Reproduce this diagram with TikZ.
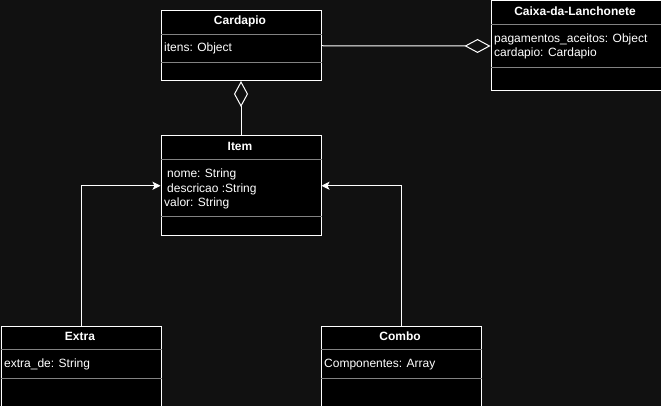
\documentclass[tikz,border=0pt]{standalone}
\usepackage{fontspec}
\setmainfont{Liberation Sans}
\usetikzlibrary{arrows.meta,positioning}
\definecolor{bgcol}{RGB}{17,17,17}
\definecolor{sepcol}{RGB}{130,130,130}

\begin{document}
\begin{tikzpicture}[
    x=1pt, y=-1pt,
    every node/.style={text=white, font=\fontsize{12}{14.7}\selectfont},
    classbox/.style={draw=white, fill=black, line width=1pt, anchor=north west, inner sep=0pt},
    title/.style={font=\fontsize{12}{14.7}\selectfont\bfseries, inner sep=0pt},
    attr/.style={anchor=west, align=left, inner sep=0pt},
    divider/.style={draw=sepcol, line width=1pt},
    link/.style={draw=white, line width=1pt},
    inherit/.style={link, -{Stealth[length=8pt, width=8pt, inset=2pt]}},
    aggregate/.style={link, -{Diamond[open, length=26pt, width=14pt]}}
]
\fill[bgcol] (0,0) rectangle (661,406);
\useasboundingbox (0,0) rectangle (661,406);

% Classes
\node[classbox, minimum width=160pt, minimum height=69.5pt] (cardapio) at (160.5,10.5) {};
\node[classbox, minimum width=170pt, minimum height=90pt] (caixa) at (490.5,0.5) {};
\node[classbox, minimum width=160pt, minimum height=99.5pt] (item) at (160.5,135.5) {};
\node[classbox, minimum width=160pt, minimum height=80pt] (extra) at (0.5,325.5) {};
\node[classbox, minimum width=160pt, minimum height=80pt] (combo) at (320.5,325.5) {};

% Compartments
\draw[divider] ([yshift=-24pt]cardapio.north west) -- ([yshift=-24pt]cardapio.north east);
\draw[divider] ([yshift=18pt]cardapio.south west) -- ([yshift=18pt]cardapio.south east);
\draw[divider] ([yshift=-24pt]caixa.north west) -- ([yshift=-24pt]caixa.north east);
\draw[divider] ([yshift=24pt]caixa.south west) -- ([yshift=24pt]caixa.south east);
\draw[divider] ([yshift=-24pt]item.north west) -- ([yshift=-24pt]item.north east);
\draw[divider] ([yshift=19pt]item.south west) -- ([yshift=19pt]item.south east);
\draw[divider] ([yshift=-24pt]extra.north west) -- ([yshift=-24pt]extra.north east);
\draw[divider] ([yshift=28pt]extra.south west) -- ([yshift=28pt]extra.south east);
\draw[divider] ([yshift=-24pt]combo.north west) -- ([yshift=-24pt]combo.north east);
\draw[divider] ([yshift=28pt]combo.south west) -- ([yshift=28pt]combo.south east);

% Names
\node[title] (cardapio-name) at (240,21) {Cardapio};
\node[title] (caixa-name) at (575,11) {Caixa-da-Lanchonete};
\node[title] (item-name) at (240,146) {Item};
\node[title] (extra-name) at (80,336) {Extra};
\node[title] (combo-name) at (400,336) {Combo};

% Attributes
\node[attr] (cardapio-attr) at (164,48.5) {itens: Object};
\node[attr] (caixa-attr) at (494,46.5) {pagamentos\_aceitos: Object\\cardapio: Cardapio};
\node[attr] (item-attr) at (164,189) {\hspace{3pt}nome: String\\\hspace{3pt}descricao :String\\valor: String};
\node[attr] (extra-attr) at (4,364.5) {extra\_de: String};
\node[attr] (combo-attr) at (324,364.5) {Componentes: Array};

% Connections
\draw[aggregate] (cardapio.east) -- (caixa.west);
\draw[aggregate] (item.north) -- (cardapio.south);
\draw[inherit] (extra.north) |- (item.west);
\draw[inherit] (combo.north) |- (item.east);

\end{tikzpicture}
\end{document}
